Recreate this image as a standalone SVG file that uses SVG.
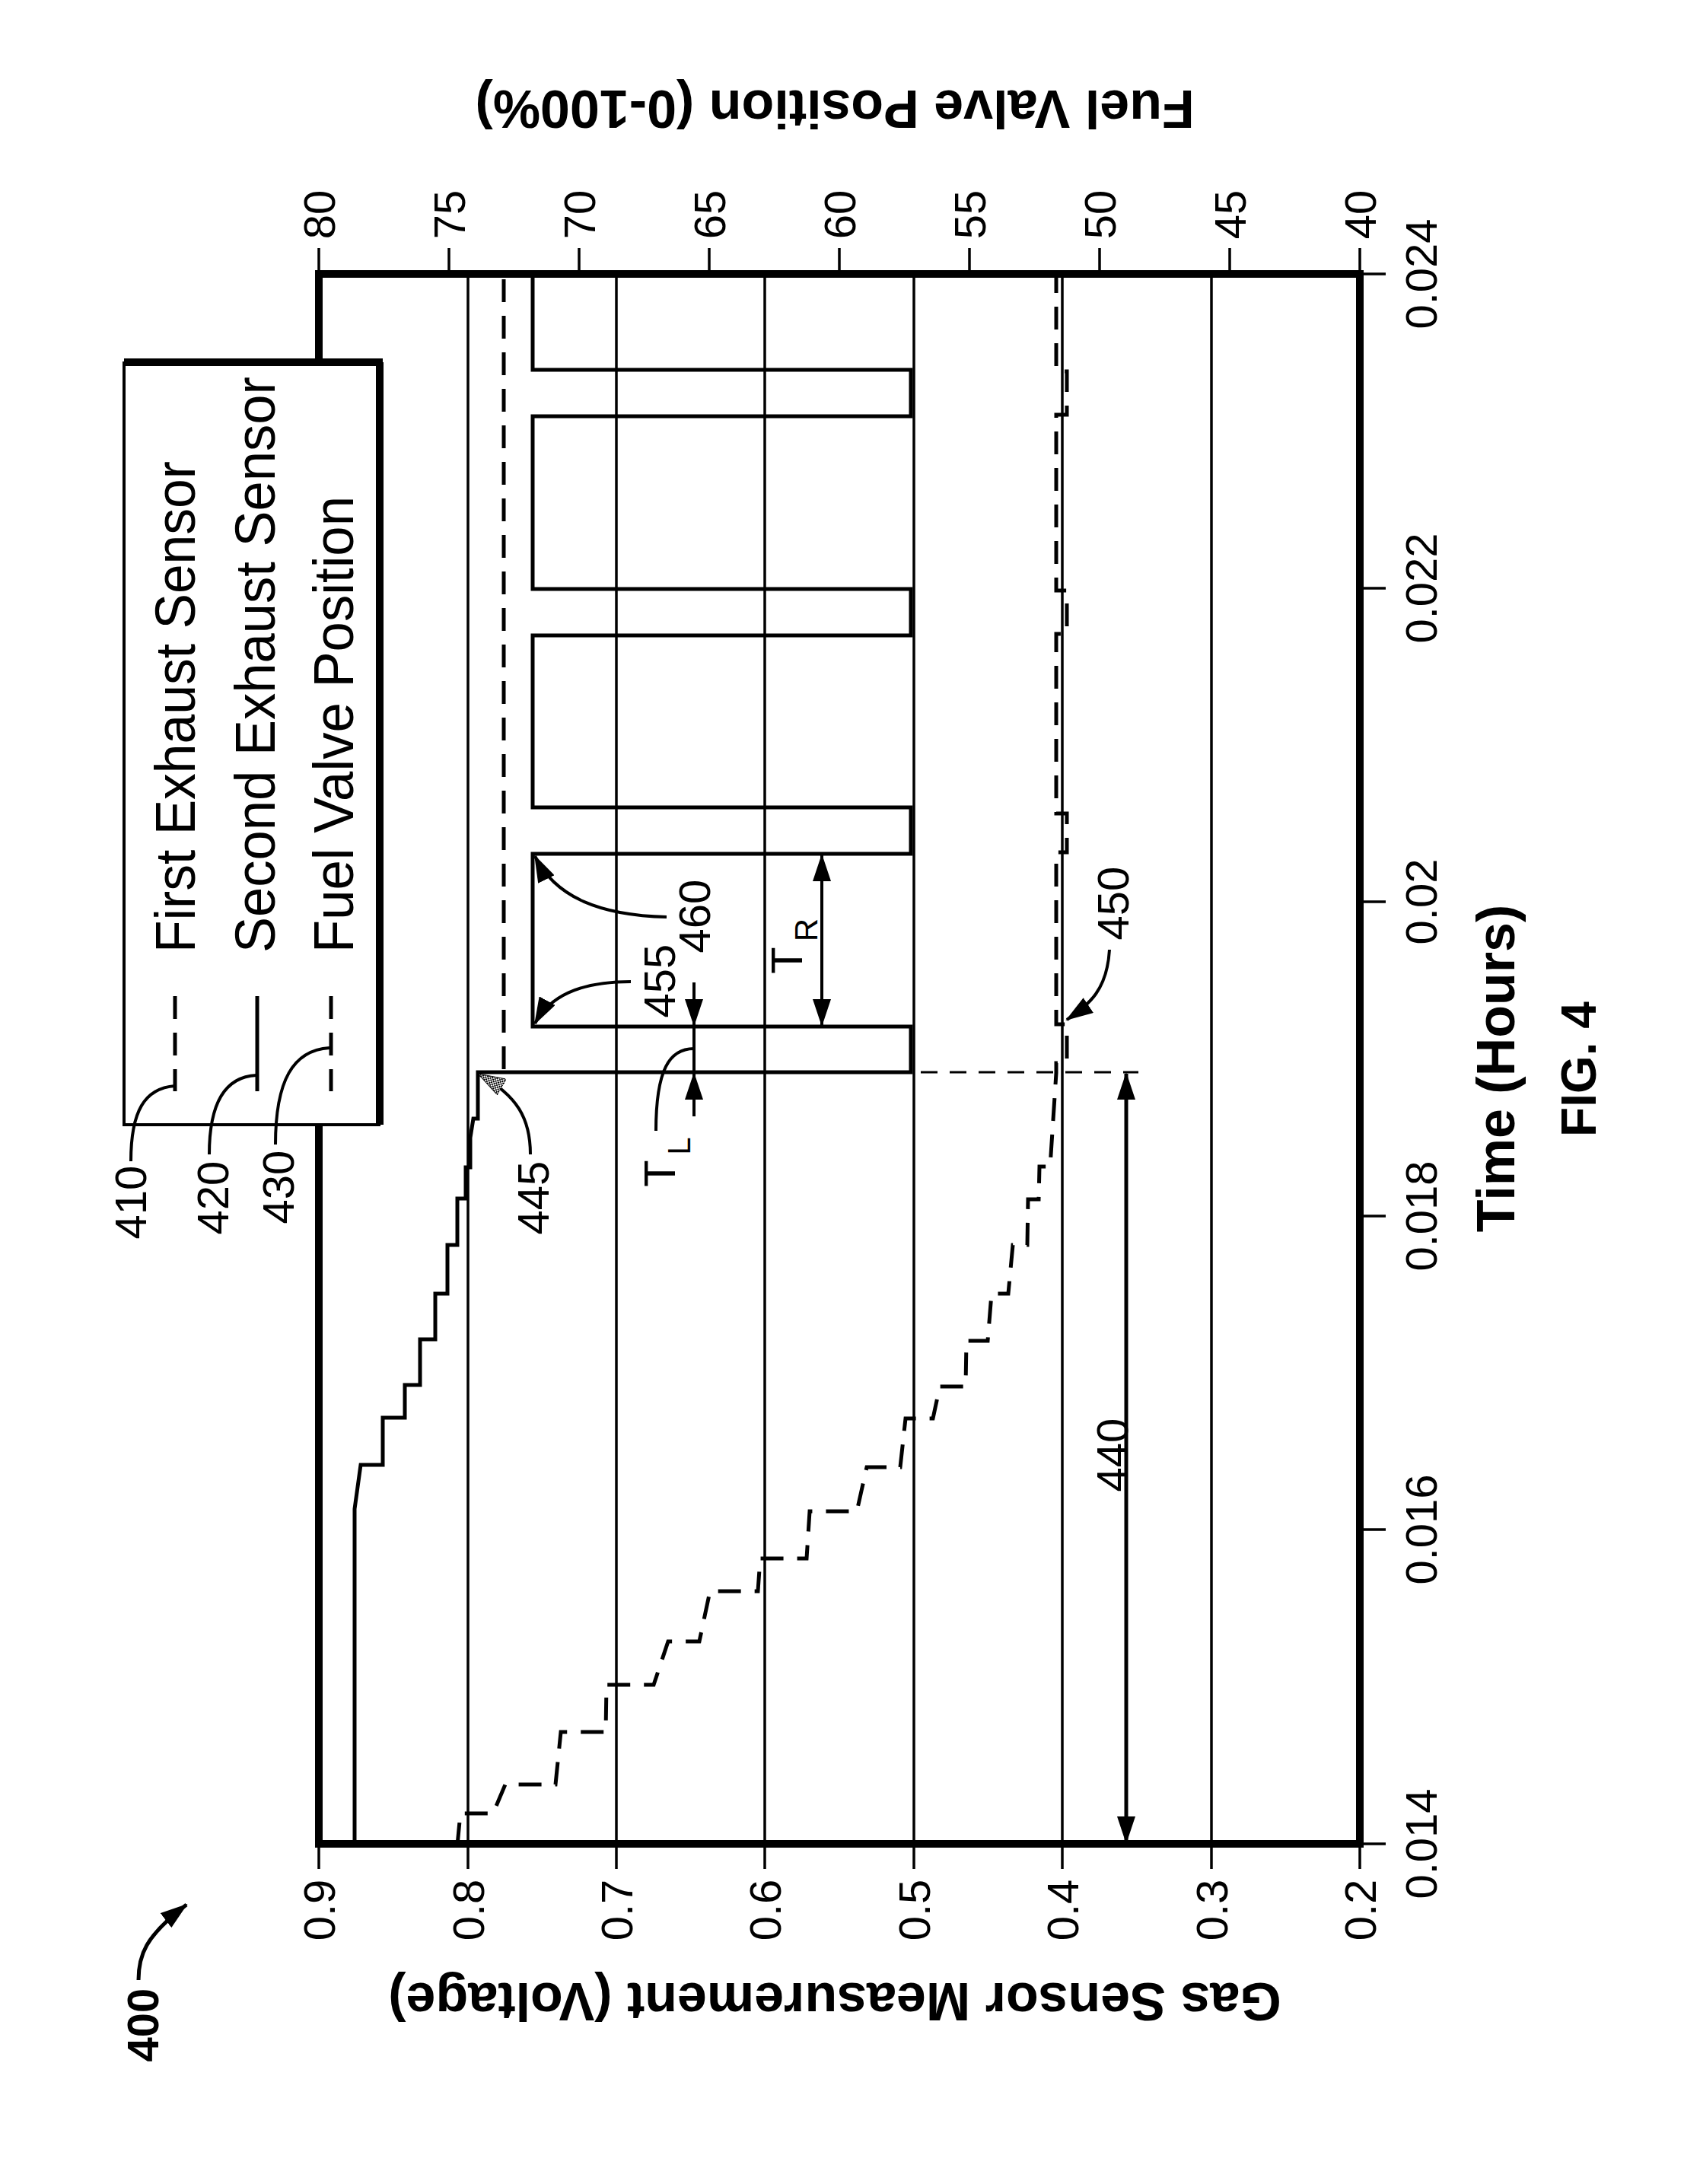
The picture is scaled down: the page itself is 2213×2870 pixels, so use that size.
<svg xmlns="http://www.w3.org/2000/svg" width="2213" height="2870" viewBox="0 0 2213 2870">
<style>
text{font-family:"Liberation Sans",Arial,sans-serif;fill:#000}
.n{font-size:58px}
.lg{font-size:74px}
.b{font-weight:bold}
.grid{stroke:#000;stroke-width:3.5;fill:none}
.tick{stroke:#000;stroke-width:3.5}
.crv{stroke:#000;stroke-width:5;fill:none}
.dash{stroke:#000;stroke-width:5;fill:none;stroke-dasharray:30 18}
.thin{stroke:#000;stroke-width:3;fill:none;stroke-dasharray:22 16}
.ann{stroke:#000;stroke-width:4;fill:none}
</style>
<defs>
<marker id="ah" markerUnits="userSpaceOnUse" markerWidth="36" markerHeight="24" viewBox="0 0 36 24" refX="34" refY="12" orient="auto-start-reverse"><path d="M0,0 L36,12 L0,24 z" fill="#000"/></marker>
<pattern id="hatch" patternUnits="userSpaceOnUse" width="4" height="4"><rect width="4" height="4" fill="#fff"/><rect width="2" height="2" fill="#000"/><rect x="2" y="2" width="2" height="2" fill="#000"/></pattern>
<marker id="ahh" markerUnits="userSpaceOnUse" markerWidth="36" markerHeight="24" viewBox="0 0 36 24" refX="34" refY="12" orient="auto"><path d="M0,0 L36,12 L0,24 z" fill="url(#hatch)" stroke="#000" stroke-width="1"/></marker>
</defs>

<g id="axes">
<g class="grid">
<line x1="615" y1="360" x2="615" y2="2423"/>
<line x1="810" y1="360" x2="810" y2="2423"/>
<line x1="1005" y1="360" x2="1005" y2="2423"/>
<line x1="1201" y1="360" x2="1201" y2="2423"/>
<line x1="1396" y1="360" x2="1396" y2="2423"/>
<line x1="1592" y1="360" x2="1592" y2="2423"/>
</g>
<g class="tick">
<line x1="419" y1="2423" x2="419" y2="2456"/><line x1="615" y1="2423" x2="615" y2="2456"/><line x1="810" y1="2423" x2="810" y2="2456"/><line x1="1005" y1="2423" x2="1005" y2="2456"/><line x1="1201" y1="2423" x2="1201" y2="2456"/><line x1="1396" y1="2423" x2="1396" y2="2456"/><line x1="1592" y1="2423" x2="1592" y2="2456"/><line x1="1787" y1="2423" x2="1787" y2="2456"/>
<line x1="419" y1="326" x2="419" y2="360"/><line x1="590" y1="326" x2="590" y2="360"/><line x1="761" y1="326" x2="761" y2="360"/><line x1="932" y1="326" x2="932" y2="360"/><line x1="1103" y1="326" x2="1103" y2="360"/><line x1="1274" y1="326" x2="1274" y2="360"/><line x1="1445" y1="326" x2="1445" y2="360"/><line x1="1616" y1="326" x2="1616" y2="360"/><line x1="1787" y1="326" x2="1787" y2="360"/>
<line x1="1787" y1="2423" x2="1821" y2="2423"/><line x1="1787" y1="2010" x2="1821" y2="2010"/><line x1="1787" y1="1598" x2="1821" y2="1598"/><line x1="1787" y1="1185" x2="1821" y2="1185"/><line x1="1787" y1="773" x2="1821" y2="773"/><line x1="1787" y1="360" x2="1821" y2="360"/>
</g>
<rect x="419" y="360" width="1368" height="2063" fill="none" stroke="#000" stroke-width="10"/>
<g class="n" text-anchor="middle" dominant-baseline="central">
<text transform="translate(419,2510) rotate(-90)">0.9</text>
<text transform="translate(615,2510) rotate(-90)">0.8</text>
<text transform="translate(810,2510) rotate(-90)">0.7</text>
<text transform="translate(1005,2510) rotate(-90)">0.6</text>
<text transform="translate(1201,2510) rotate(-90)">0.5</text>
<text transform="translate(1396,2510) rotate(-90)">0.4</text>
<text transform="translate(1592,2510) rotate(-90)">0.3</text>
<text transform="translate(1787,2510) rotate(-90)">0.2</text>
<text transform="translate(419,282) rotate(-90)">80</text>
<text transform="translate(590,282) rotate(-90)">75</text>
<text transform="translate(761,282) rotate(-90)">70</text>
<text transform="translate(932,282) rotate(-90)">65</text>
<text transform="translate(1103,282) rotate(-90)">60</text>
<text transform="translate(1274,282) rotate(-90)">55</text>
<text transform="translate(1445,282) rotate(-90)">50</text>
<text transform="translate(1616,282) rotate(-90)">45</text>
<text transform="translate(1787,282) rotate(-90)">40</text>
<text transform="translate(1867,2423) rotate(-90)">0.014</text>
<text transform="translate(1867,2010) rotate(-90)">0.016</text>
<text transform="translate(1867,1598) rotate(-90)">0.018</text>
<text transform="translate(1867,1185) rotate(-90)">0.02</text>
<text transform="translate(1867,773) rotate(-90)">0.022</text>
<text transform="translate(1867,360) rotate(-90)">0.024</text>
</g>
<g class="b" text-anchor="middle" dominant-baseline="central" font-size="70">
<text transform="translate(1097,143) rotate(180)">Fuel Valve Position (0-100%)</text>
<text transform="translate(1097,2630) rotate(180)">Gas Sensor Measurement (Voltage)</text>
<text transform="translate(1966,1404) rotate(-90)">Time (Hours)</text>
<text transform="translate(2075,1405) rotate(-90)" font-size="64">FIG. 4</text>
<text transform="translate(187,2661) rotate(-90)" font-size="58">400</text>
</g>
</g>

<g id="curves">
<path class="dash" d="M662,1405 V360"/>
<path class="crv" d="M466,2423 V1983 L474,1925 H503 V1863 H532 V1820 H552 V1760 H572 V1700 H588 V1636 H601 V1575 H612 V1534 H618 V1495 L622,1470 H628 V1409 H1197 V1349 H700 V1122 H1197 V1061 H700 V835 H1197 V774 H700 V547 H1197 V486 H700 V360"/>
<path class="dash" d="M601,2425 L605,2383 H648 L664,2345 H730 L737,2276 H796 L797,2214 H859 L878,2157 H919 L933,2091 H996 L999,2048 H1060 L1064,1986 H1126 L1139,1928 H1183 L1190,1864 H1226 L1235,1822 H1269 L1270,1762 H1298 L1303,1700 H1325 L1331,1636 H1350 L1351,1576 H1365 L1366,1533 H1380 L1388,1410 V1397 H1402 V1346 H1388 V1120 H1402 V1069 H1388 V833 H1402 V776 H1388 V545 H1402 V488 H1388 V360"/>
<path class="thin" d="M1210,1409 H1496"/>
</g>

<g id="legend">
<rect x="163" y="477" width="335" height="1001" fill="#fff" stroke="#000" stroke-width="4"/>
<line x1="163" y1="476" x2="503" y2="476" stroke="#000" stroke-width="10"/>
<line x1="499" y1="476" x2="499" y2="1478" stroke="#000" stroke-width="10"/>
<g class="lg" text-anchor="start">
<text transform="translate(256,1252) rotate(-90)" textLength="646" lengthAdjust="spacingAndGlyphs">First Exhaust Sensor</text>
<text transform="translate(361,1252) rotate(-90)" textLength="757" lengthAdjust="spacingAndGlyphs">Second Exhaust Sensor</text>
<text transform="translate(464,1252) rotate(-90)" textLength="600" lengthAdjust="spacingAndGlyphs">Fuel Valve Position</text>
</g>
<path class="dash" d="M230,1309 V1434" stroke-dasharray="28 16"/>
<path class="crv" d="M338,1309 V1434"/>
<path class="dash" d="M435,1309 V1434" stroke-dasharray="28 16"/>
</g>

<g id="labels" class="n" text-anchor="middle" dominant-baseline="central">
<text transform="translate(171,1580) rotate(-90)">410</text>
<text transform="translate(279,1574) rotate(-90)">420</text>
<text transform="translate(365,1560) rotate(-90)">430</text>
<text transform="translate(700,1574) rotate(-90)">445</text>
<text transform="translate(866,1289) rotate(-90)">455</text>
<text transform="translate(912,1204) rotate(-90)">460</text>
<text transform="translate(1462,1187) rotate(-90)">450</text>
<text transform="translate(1461,1912) rotate(-90)">440</text>
<text transform="translate(887,1542) rotate(-90)" dominant-baseline="auto">T</text>
<text transform="translate(907,1506) rotate(-90)" dominant-baseline="auto" font-size="42">L</text>
<text transform="translate(1054,1262) rotate(-90)" dominant-baseline="auto">T</text>
<text transform="translate(1074,1222) rotate(-90)" dominant-baseline="auto" font-size="42">R</text>
</g>

<g id="annotations" class="ann">
<path d="M172,1526 C172,1460 190,1430 230,1427"/>
<path d="M275,1517 C275,1450 295,1415 337,1413"/>
<path d="M362,1504 C362,1420 385,1380 433,1377"/>
<path d="M697,1517 C697,1470 680,1440 630,1412" marker-end="url(#ahh)"/>
<path d="M829,1290 C760,1290 722,1310 703,1345" marker-end="url(#ah)"/>
<path d="M876,1205 C790,1203 730,1180 703,1125" marker-end="url(#ah)"/>
<path d="M912,1291 V1347" marker-end="url(#ah)"/>
<path d="M912,1467 V1411" marker-end="url(#ah)"/>
<path d="M912,1347 V1411"/>
<path d="M862,1486 C862,1405 880,1378 912,1378"/>
<path d="M1080,1124 V1347" marker-start="url(#ah)" marker-end="url(#ah)"/>
<path d="M1480,1411 V2421" marker-start="url(#ah)" marker-end="url(#ah)" stroke-width="5"/>
<path d="M1458,1248 C1455,1300 1432,1320 1402,1340" marker-end="url(#ah)"/>
<path d="M182,2602 C182,2570 190,2545 245,2503" marker-end="url(#ah)" stroke-width="5"/>
</g>
</svg>
